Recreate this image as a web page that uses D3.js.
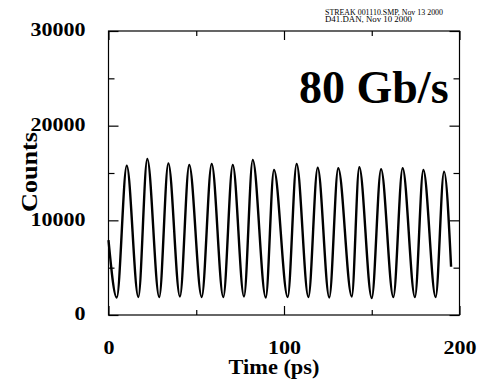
<!DOCTYPE html>
<html>
<head>
<meta charset="utf-8">
<script src="https://cdn.jsdelivr.net/npm/d3@7"></script>
<style>
  html, body { margin: 0; padding: 0; background: #fff; }
  svg { display: block; }
  text { font-family: "Liberation Serif", "Times New Roman", serif; }
</style>
</head>
<body>
<div id="chart"></div>
<script>
/* streak camera trace, 80 Gb/s pulse train */
const traceTime = [
  0, 4.7, 10.4, 17.0, 22.1, 28.9, 34.1, 40.7, 46.0, 53.1, 58.8, 65.4, 70.8,
  77.2, 82.2, 89.6, 94.3, 102.1, 107.2, 113.9, 119.2, 125.8, 130.9, 138.6,
  142.9, 150.0, 155.3, 162.3, 167.6, 174.6, 179.4, 186.4, 191.2, 195.2
];
const traceCounts = [
  7900, 1850, 15770, 1900, 16480, 1900, 16020, 1950, 15840, 1900, 15950, 1900,
  15840, 1950, 16370, 1850, 15320, 1900, 15950, 1900, 15560, 1850, 15500, 1950,
  15600, 1800, 15390, 1900, 15500, 1900, 15320, 1900, 15140, 5100
];

const xMajor = [0, 100, 200];
const xMinor = [50, 150];
const yMajor = [0, 10000, 20000, 30000];
const yMinor = [5000, 15000, 25000];

const headerLines = ["STREAK 001110.SMP, Nov 13 2000", "D41.DAN, Nov 10 2000"];
const rateLabel = "80 Gb/s";
const xTitle = "Time (ps)";
const yTitle = "Counts";

const W = 487, H = 381;
const plotL = 108.5, plotR = 459.5, plotT = 31, plotB = 315;

const svg = d3.select("#chart").append("svg")
  .attr("width", W).attr("height", H);

const x = d3.scaleLinear().domain([0, 200]).range([plotL, plotR]);
const y = d3.scaleLinear().domain([0, 30000]).range([plotB, plotT]);

/* inward ticks on all four sides */
function ticks(axisFn, vals, len, tx, ty) {
  const g = svg.append("g").attr("transform", `translate(${tx},${ty})`)
    .call(axisFn.tickValues(vals).tickSize(len).tickFormat(""));
  g.select(".domain").remove();
  g.selectAll("line").attr("stroke", "#000").attr("stroke-width", 1.2);
}
ticks(d3.axisBottom(x), xMajor, -9, 0, plotB);
ticks(d3.axisBottom(x), xMinor, -5, 0, plotB);
ticks(d3.axisTop(x), xMajor, -9, 0, plotT);
ticks(d3.axisTop(x), xMinor, -5, 0, plotT);
ticks(d3.axisLeft(y), yMajor, -10, plotL, 0);
ticks(d3.axisLeft(y), yMinor, -6, plotL, 0);
ticks(d3.axisRight(y), yMajor, -10, plotR, 0);
ticks(d3.axisRight(y), yMinor, -6, plotR, 0);

/* frame */
svg.append("rect")
  .attr("x", plotL).attr("y", plotT)
  .attr("width", plotR - plotL).attr("height", plotB - plotT)
  .attr("fill", "none").attr("stroke", "#000").attr("stroke-width", 1.2);

/* tick labels */
const xLab = svg.append("g").attr("transform", `translate(0,${plotB})`)
  .call(d3.axisBottom(x).tickValues(xMajor).tickSize(0).tickPadding(26).tickFormat(d3.format("d")));
xLab.select(".domain").remove();
xLab.selectAll("text")
  .style("font-family", "'Liberation Serif', serif")
  .style("font-size", "19px").style("font-weight", "bold").attr("fill", "#000")
  .attr("textLength", d => String(d).length * 11)
  .attr("lengthAdjust", "spacingAndGlyphs");

const yLab = svg.append("g").attr("transform", `translate(${plotL},0)`)
  .call(d3.axisLeft(y).tickValues(yMajor).tickSize(0).tickPadding(23).tickFormat(d3.format("d")));
yLab.select(".domain").remove();
yLab.selectAll("text")
  .style("font-family", "'Liberation Serif', serif")
  .style("font-size", "19px").style("font-weight", "bold").attr("fill", "#000")
  .attr("dy", "0.26em")
  .attr("textLength", d => String(d).length * 11)
  .attr("lengthAdjust", "spacingAndGlyphs");

/* axis titles */
svg.append("text")
  .attr("x", (plotL + plotR) / 2 - 10).attr("y", 374)
  .attr("text-anchor", "middle")
  .style("font-size", "21px").style("font-weight", "bold")
  .attr("textLength", 91).attr("lengthAdjust", "spacingAndGlyphs")
  .text(xTitle);

svg.append("text")
  .attr("transform", "translate(37,172) rotate(-90)")
  .attr("text-anchor", "middle")
  .style("font-size", "23px").style("font-weight", "bold")
  .attr("textLength", 80).attr("lengthAdjust", "spacingAndGlyphs")
  .text(yTitle);

/* header and rate annotation */
headerLines.forEach((s, i) => {
  svg.append("text")
    .attr("x", 325).attr("y", 14.5 + i * 7.5)
    .style("font-size", "7.5px")
    .attr("textLength", i === 0 ? 118 : 87).attr("lengthAdjust", "spacingAndGlyphs")
    .text(s);
});

svg.append("text")
  .attr("x", 299).attr("y", 103)
  .style("font-size", "46px").style("font-weight", "bold")
  .text(rateLabel);

/* the trace */
const pts = traceTime.map((t, i) => [t, traceCounts[i]]);
svg.append("path")
  .datum(pts)
  .attr("fill", "none").attr("stroke", "#000").attr("stroke-width", 2.4)
  .attr("stroke-linejoin", "round")
  .attr("d", d3.line().x(d => x(d[0])).y(d => y(d[1])).curve(d3.curveMonotoneX));
</script>
</body>
</html>
